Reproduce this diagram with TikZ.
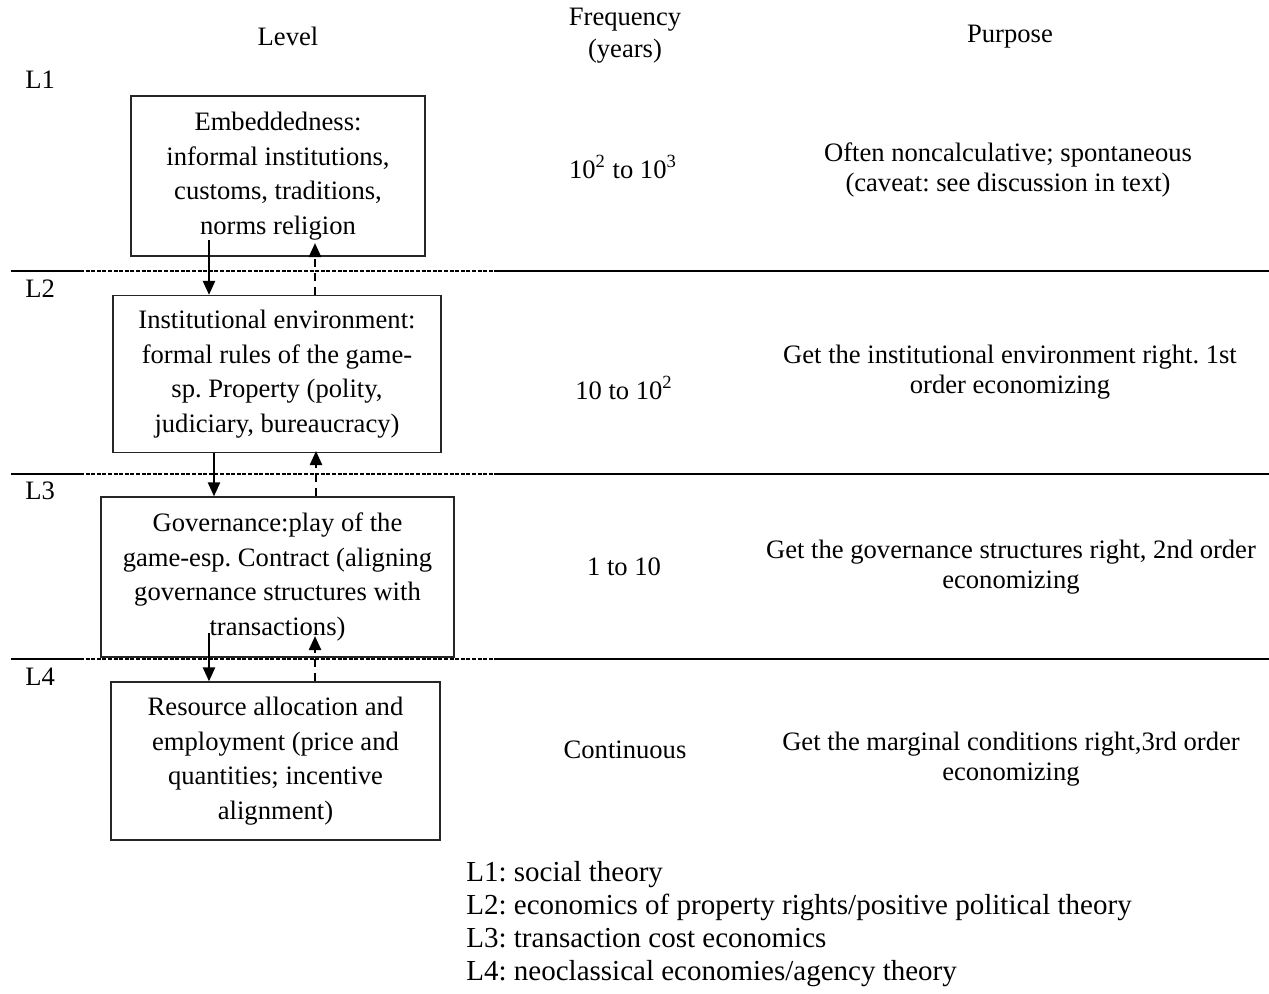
\documentclass[tikz,border=0pt]{standalone}
\usepackage{fontspec}
\setmainfont{Liberation Serif}
\usetikzlibrary{arrows.meta}
\begin{document}
\frenchspacing
\begin{tikzpicture}[x=0.5pt,y=-0.5pt,
  txt/.style={font=\fontsize{13.3}{17.3}\selectfont, align=center, inner sep=0pt},
  ptxt/.style={font=\fontsize{13.3}{15.2}\selectfont, align=center, inner sep=0pt},
  lvl/.style={draw=black!85, line width=0.65pt, font=\fontsize{13.3}{17.3}\selectfont, align=center, inner sep=0pt},
  hdr/.style={font=\fontsize{13.3}{16}\selectfont, align=center, inner sep=0pt},
  downarrow/.style={line width=1.2pt, -{Triangle[length=7pt,width=6pt]}},
  uparrow/.style={line width=1.2pt, dash pattern=on 4pt off 3pt, -{Triangle[length=7pt,width=6pt]}},
  sepsolid/.style={line width=1pt},
  sepdash/.style={line width=0.6pt, dash pattern=on 2pt off 0.8pt},
]
\useasboundingbox (0,0) rectangle (1269,993);

% headers
\node[hdr] (hlevel) at (288,36) {Level};
\node[hdr] (hfreq) at (625,36) {Frequency\\(years)};
\node[hdr] (hpurp) at (1010,37) {Purpose};

% level labels
\node[hdr, anchor=west] (l1) at (25,80) {L1};
\node[hdr, anchor=west] (l2) at (25,289) {L2};
\node[hdr, anchor=west] (l3) at (25,491) {L3};
\node[hdr, anchor=west] (l4) at (25,677) {L4};

% separator lines
\foreach \yy/\nm in {271/s2, 474/s3, 659/s4}{
  \coordinate (\nm a) at (11,\yy);
  \coordinate (\nm b) at (80,\yy);
  \coordinate (\nm c) at (498,\yy);
  \coordinate (\nm d) at (1269,\yy);
  \draw[sepsolid] (\nm a) -- (\nm b);
  \draw[sepdash] (\nm b) -- (\nm c);
  \draw[sepsolid] (\nm c) -- (\nm d);
}

% boxes
\node[lvl, minimum width=147pt, minimum height=80pt] (b1) at (278,176)
  {Embeddedness:\\informal institutions,\\customs, traditions,\\norms religion};
\node[lvl, minimum width=164pt, minimum height=78.5pt] (b2) at (277,374)
  {Institutional environment:\\formal rules of the game-\\sp. Property (polity,\\judiciary, bureaucracy)};
\node[lvl, minimum width=176.5pt, minimum height=80pt] (b3) at (277.5,577)
  {Governance:play of the\\game-esp. Contract (aligning\\governance structures with\\transactions)};
\node[lvl, minimum width=164.5pt, minimum height=79pt] (b4) at (275.5,761)
  {Resource allocation and\\employment (price and\\quantities; incentive\\alignment)};

% arrows
\coordinate (d1) at (209,240);
\draw[downarrow] (d1) -- (d1 |- b2.north);
\coordinate (u1) at (315,243);
\draw[uparrow] (u1 |- b2.north) -- (u1);

\coordinate (d2) at (214,0);
\draw[downarrow] (d2 |- b2.south) -- (d2 |- b3.north);
\coordinate (u2) at (316,451);
\draw[uparrow] (u2 |- b3.north) -- (u2);

\coordinate (d3) at (209,633);
\draw[downarrow] (d3) -- (d3 |- b4.north);
\coordinate (u3) at (315,636);
\draw[uparrow] (u3 |- b4.north) -- (u3);

% frequency column
\node[txt] (f1) at (623,167) {10\textsuperscript{2} to 10\textsuperscript{3}};
\node[txt] (f2) at (624,388) {10 to 10\textsuperscript{2}};
\node[txt] (f3) at (624,567) {1 to 10};
\node[txt] (f4) at (625,750) {Continuous};

% purpose column
\node[ptxt] (p1) at (1008,170) {Often noncalculative; spontaneous\\(caveat: see discussion in text)};
\node[ptxt] (p2) at (1010,372) {Get the institutional environment right. 1st\\order economizing};
\node[ptxt] (p3) at (1011,567) {Get the governance structures right, 2nd order\\economizing};
\node[ptxt] (p4) at (1011,759) {Get the marginal conditions right,3rd order\\economizing};

% legend
\node[font=\fontsize{14.5}{16.5}\selectfont, align=left, inner sep=0pt, anchor=north west] (leg) at (466,861)
  {L1: social theory\\L2: economics of property rights/positive political theory\\L3: transaction cost economics\\L4: neoclassical economies/agency theory};
\end{tikzpicture}
\end{document}
